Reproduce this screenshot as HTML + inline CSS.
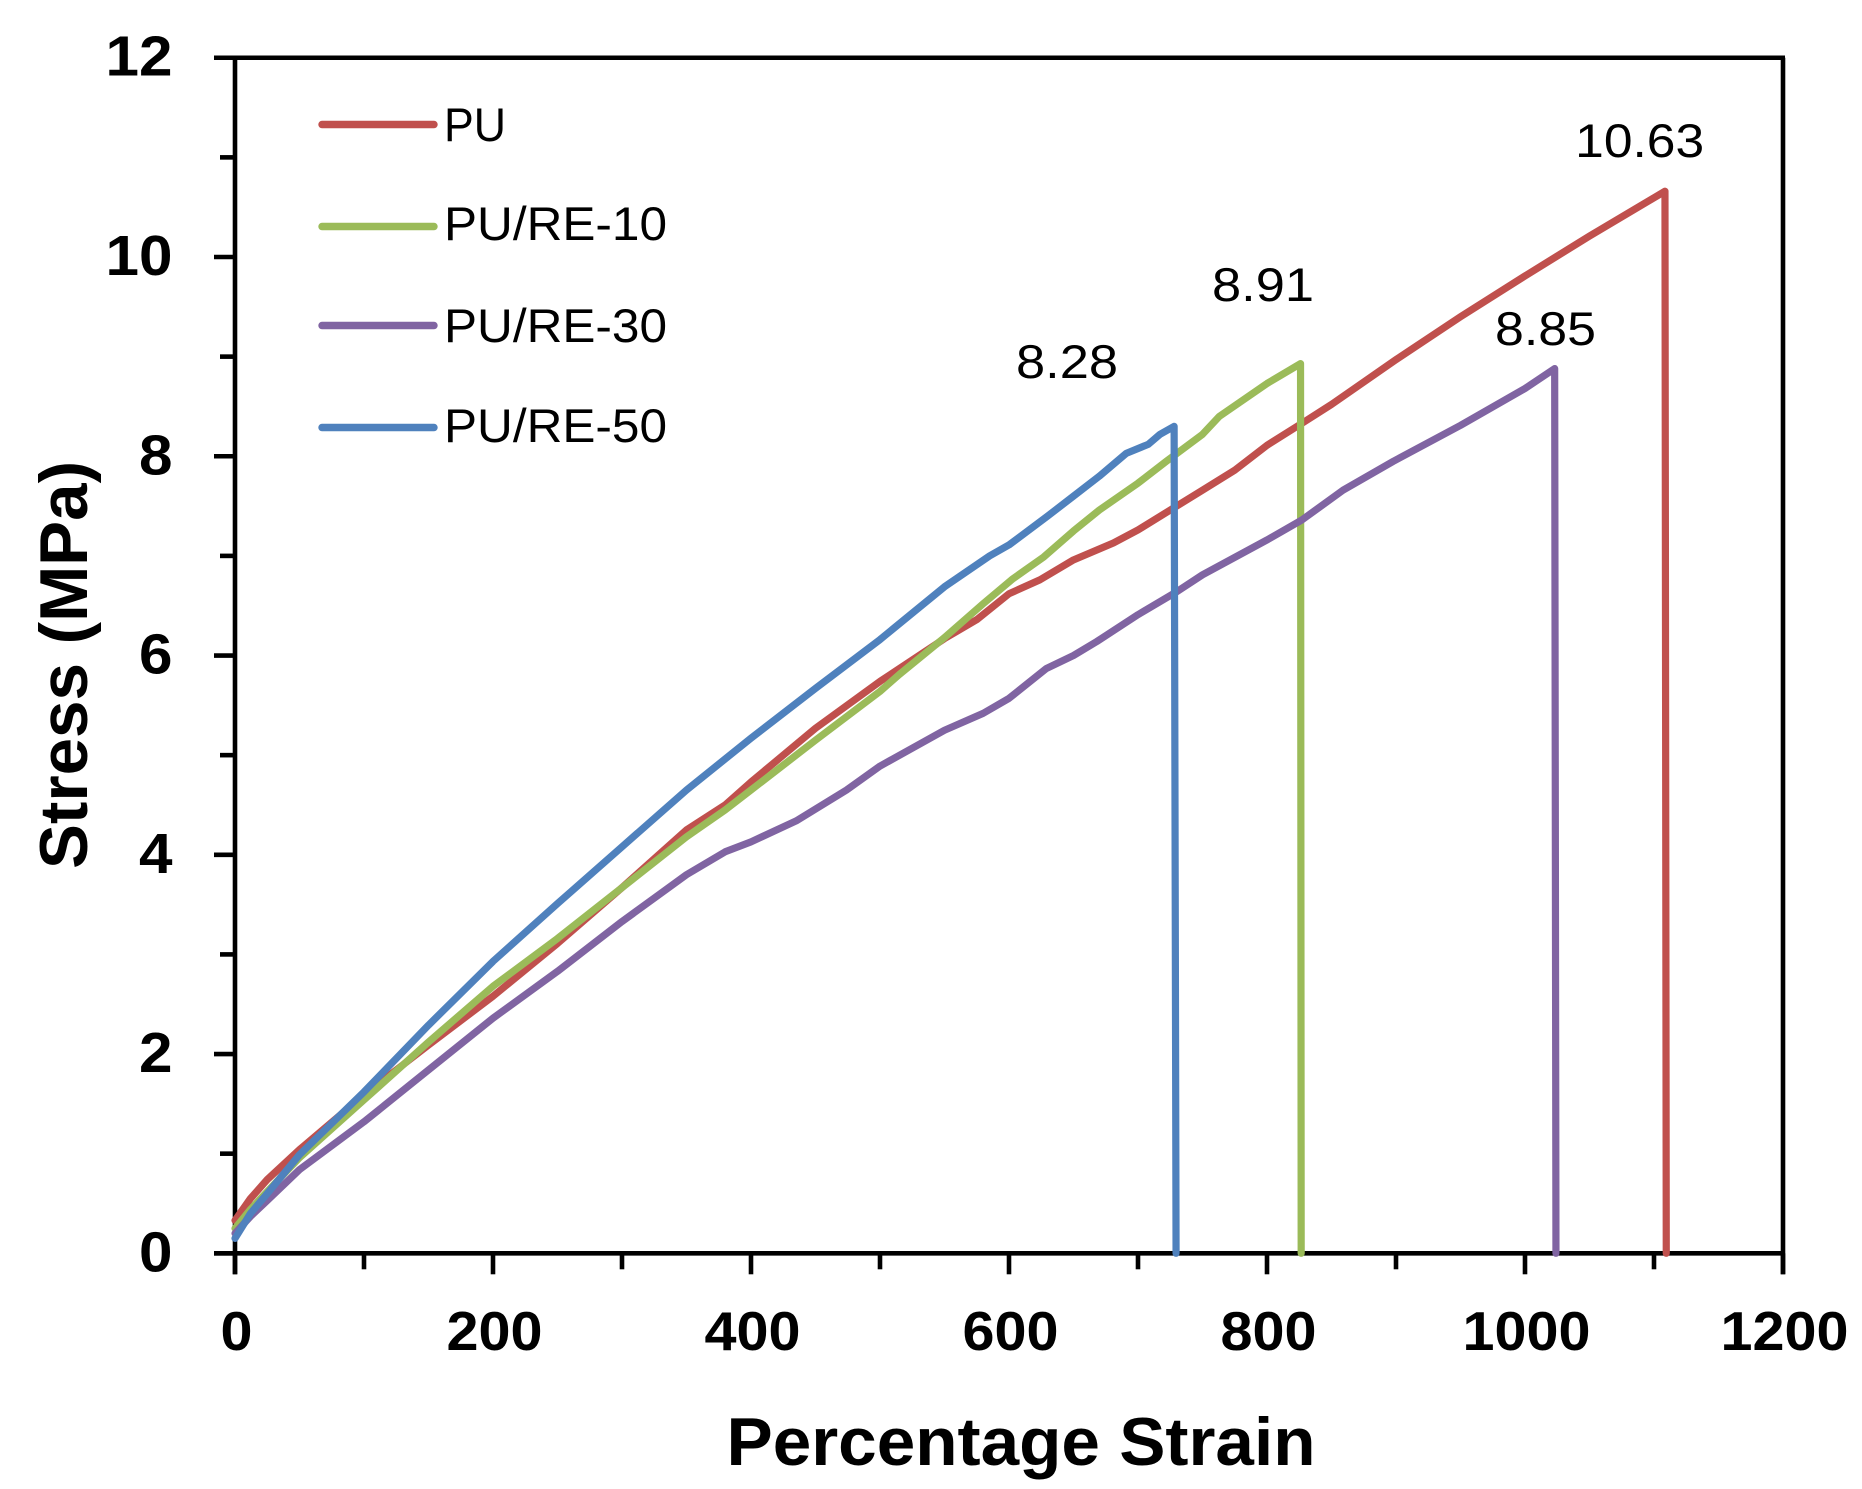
<!DOCTYPE html>
<html lang="en">
<head>
<meta charset="utf-8">
<title>Stress vs Percentage Strain</title>
<style>
  html, body { margin: 0; padding: 0; background: #fff; }
  body { width: 1862px; height: 1489px; overflow: hidden; }
  svg { display: block; }
  text { font-family: "Liberation Sans", Arial, sans-serif; fill: #000; }
  .legend-text { font-size: 47px; }
  .peak-text { font-size: 47px; text-anchor: middle; }
  .tick-text { font-weight: bold; }
  .title-text { font-weight: bold; font-size: 68px; }
</style>
</head>
<body>
<svg id="chart" xmlns="http://www.w3.org/2000/svg" width="1862" height="1489" viewBox="0 0 1862 1489">
  <rect x="0" y="0" width="1862" height="1489" fill="#fff"/>
  <g id="axes"></g>
  <g id="series"></g>
  <g id="peaks"></g>

  <text class="title-text" x="726.5" y="1465" textLength="589" lengthAdjust="spacingAndGlyphs">Percentage Strain</text>
  <text class="title-text" transform="translate(87,869) rotate(-90)" x="0" y="0" textLength="408" lengthAdjust="spacingAndGlyphs">Stress (MPa)</text>

  <g>
    <g>
      <line x1="322" y1="124.5" x2="434" y2="124.5" stroke="#C0504D" stroke-width="7.4" stroke-linecap="round"/>
      <text class="legend-text" x="444" y="141" textLength="62" lengthAdjust="spacingAndGlyphs">PU</text>
    </g>
    <g>
      <line x1="322" y1="226.5" x2="434" y2="226.5" stroke="#9BBB59" stroke-width="7.4" stroke-linecap="round"/>
      <text class="legend-text" x="444" y="240" textLength="223" lengthAdjust="spacingAndGlyphs">PU/RE-10</text>
    </g>
    <g>
      <line x1="322" y1="325.5" x2="434" y2="325.5" stroke="#8064A2" stroke-width="7.4" stroke-linecap="round"/>
      <text class="legend-text" x="444" y="342" textLength="223" lengthAdjust="spacingAndGlyphs">PU/RE-30</text>
    </g>
    <g>
      <line x1="322" y1="427.5" x2="434" y2="427.5" stroke="#4F81BD" stroke-width="7.4" stroke-linecap="round"/>
      <text class="legend-text" x="444" y="442" textLength="223" lengthAdjust="spacingAndGlyphs">PU/RE-50</text>
    </g>
  </g>
</svg>

<script>
// ---- chart data ----
var xMajorTicks = [0, 200, 400, 600, 800, 1000, 1200];
var xMinorTicks = [100, 300, 500, 700, 900, 1100];
var yMajorTicks = [0, 2, 4, 6, 8, 10, 12];
var yMinorTicks = [1, 3, 5, 7, 9, 11];

var puStrain = [0, 12, 25, 50, 100, 150, 200, 250, 300, 350, 380, 400, 450, 500, 550, 575, 600, 624, 650, 681, 700, 730, 750, 775, 800, 827, 850, 900, 950, 1000, 1050, 1108.5, 1109.5];
var puStress = [0.33, 0.55, 0.74, 1.04, 1.59, 2.09, 2.58, 3.11, 3.67, 4.25, 4.50, 4.73, 5.27, 5.74, 6.17, 6.36, 6.62, 6.76, 6.96, 7.13, 7.26, 7.50, 7.66, 7.86, 8.11, 8.33, 8.52, 8.97, 9.40, 9.81, 10.21, 10.66, 0];

var re10Strain = [0, 12, 25, 50, 100, 150, 200, 250, 300, 350, 380, 400, 450, 500, 515, 550, 580, 603, 627, 650, 670, 700, 722, 750, 763, 800, 826, 826.5];
var re10Stress = [0.25, 0.44, 0.62, 0.96, 1.54, 2.12, 2.68, 3.16, 3.67, 4.18, 4.45, 4.65, 5.15, 5.64, 5.81, 6.18, 6.52, 6.77, 6.99, 7.25, 7.46, 7.73, 7.95, 8.22, 8.40, 8.73, 8.93, 0];

var re30Strain = [0, 12, 25, 50, 100, 150, 200, 250, 300, 350, 380, 400, 435, 474, 500, 550, 580, 600, 629, 650, 668, 700, 730, 750, 800, 827, 859, 898, 950, 1000, 1023, 1024];
var re30Stress = [0.20, 0.37, 0.53, 0.84, 1.32, 1.84, 2.36, 2.83, 3.33, 3.80, 4.03, 4.13, 4.34, 4.65, 4.89, 5.25, 5.42, 5.57, 5.87, 6.00, 6.14, 6.41, 6.64, 6.81, 7.16, 7.36, 7.66, 7.95, 8.31, 8.68, 8.88, 0];

var re50Strain = [0, 12, 25, 50, 100, 150, 200, 250, 300, 350, 400, 450, 500, 550, 585, 600, 630, 650, 670, 691, 708, 717, 728, 729.5];
var re50Stress = [0.15, 0.40, 0.60, 0.99, 1.62, 2.29, 2.93, 3.51, 4.08, 4.65, 5.17, 5.67, 6.16, 6.69, 7.00, 7.11, 7.40, 7.60, 7.80, 8.03, 8.12, 8.22, 8.30, 0];

var puPeakLabel = '10.63';
var re10PeakLabel = '8.91';
var re30PeakLabel = '8.85';
var re50PeakLabel = '8.28';

// ---- axis functions ----
function sx(v) { return 235 + v * 1.29; }
function sy(v) { return 1253.3 - v * 99.63; }

var NS = 'http://www.w3.org/2000/svg';
var axes = document.getElementById('axes');
var seriesGroup = document.getElementById('series');
var peaks = document.getElementById('peaks');

function make(tag, parent, geom) {
  var el = document.createElementNS(NS, tag);
  for (var k in geom) { el.setAttribute(k, geom[k]); }
  parent.appendChild(el);
  return el;
}
function axisLine(x1, y1, x2, y2) {
  return make('line', axes, { x1: x1, y1: y1, x2: x2, y2: y2, stroke: '#000', 'stroke-width': 4.6 });
}

// plot frame
var frameTop = axisLine(sx(0) - 21, sy(12), sx(1200) + 2, sy(12));


var frameBottom = axisLine(sx(0) - 21, sy(0), sx(1200) + 2, sy(0));


var frameLeft = axisLine(sx(0), sy(12), sx(0), sy(0) + 21);


var frameRight = axisLine(sx(1200), sy(12), sx(1200), sy(0) + 21);



// x ticks
xMajorTicks.forEach(function (v) {
  var tick = axisLine(sx(v), sy(0), sx(v), sy(0) + 21);
  
  
  var text = String(v);
  var label = make('text', axes, { x: sx(v) + 1.5, y: 1350, 'text-anchor': 'middle', 'font-size': 55, 'class': 'tick-text', textLength: text.length * 32, lengthAdjust: 'spacingAndGlyphs' });
  label.textContent = text;
  
  
});
xMinorTicks.forEach(function (v) {
  var tick = axisLine(sx(v), sy(0), sx(v), sy(0) + 16);
  
  
});

// y ticks
yMajorTicks.forEach(function (v) {
  var tick = axisLine(sx(0) - 21, sy(v), sx(0), sy(v));
  
  
  var text = String(v);
  var label = make('text', axes, { x: 172.5, y: sy(v) + 18, 'text-anchor': 'end', 'font-size': 57, 'class': 'tick-text', textLength: text.length * 33.5, lengthAdjust: 'spacingAndGlyphs' });
  label.textContent = text;
  
  
});
yMinorTicks.forEach(function (v) {
  var tick = axisLine(sx(0) - 15, sy(v), sx(0), sy(v));
  
  
});

// series
function pathFor(xs, ys) {
  return xs.map(function (x, i) {
    return (i ? 'L' : 'M') + sx(x).toFixed(2) + ' ' + sy(ys[i]).toFixed(2);
  }).join(' ');
}
function drawSeries(xs, ys, color) {
  return make('path', seriesGroup, {
    d: pathFor(xs, ys), fill: 'none', stroke: color, 'stroke-width': 7.2,
    'stroke-linejoin': 'round', 'stroke-linecap': 'round'
  });
}
var linePu = drawSeries(puStrain, puStress, '#C0504D');


var lineRe10 = drawSeries(re10Strain, re10Stress, '#9BBB59');


var lineRe30 = drawSeries(re30Strain, re30Stress, '#8064A2');


var lineRe50 = drawSeries(re50Strain, re50Stress, '#4F81BD');



// peak value labels, anchored to each series' maximum
function drawPeak(xs, ys, text, dx, dy, width) {
  var top = ys.indexOf(Math.max.apply(null, ys));
  var el = make('text', peaks, {
    x: sx(xs[top]) + dx, y: sy(ys[top]) + dy, 'class': 'peak-text',
    textLength: width, lengthAdjust: 'spacingAndGlyphs'
  });
  el.textContent = text;
  return el;
}
var peakPu = drawPeak(puStrain, puStress, puPeakLabel, -25.3, -34.2, 129);


var peakRe10 = drawPeak(re10Strain, re10Stress, re10PeakLabel, -37.5, -62.6, 102);


var peakRe30 = drawPeak(re30Strain, re30Stress, re30PeakLabel, -9.2, -23.6, 101);


var peakRe50 = drawPeak(re50Strain, re50Stress, re50PeakLabel, -107.1, -48.4, 102);


</script>
</body>
</html>
